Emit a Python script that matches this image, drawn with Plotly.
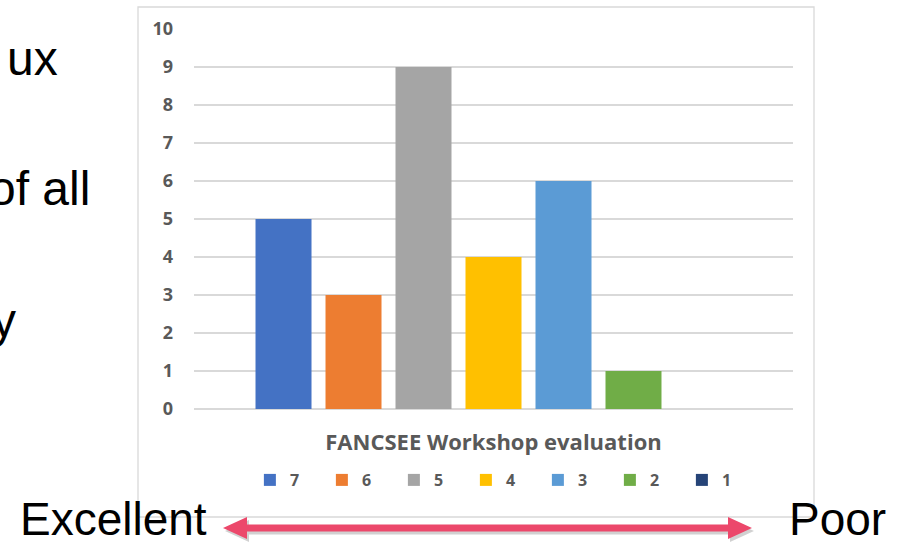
import plotly.graph_objects as go

# Workshop rating counts (7 = excellent ... 1 = poor)
category = ["FANCSEE Workshop evaluation"]
ratings = ["7", "6", "5", "4", "3", "2", "1"]
counts = [5, 3, 9, 4, 6, 1, 0]
colors = ["#4472C4", "#ED7D31", "#A5A5A5", "#FFC000", "#5B9BD5", "#70AD47", "#264478"]

W, H = 898, 545
L, R, T, B = 194, 793, 29, 409  # plot area in pixels


def px(x):
    return (x - L) / (R - L)


def py(y):
    return (B - y) / (B - T)


fig = go.Figure()
for name, val, col in zip(ratings, counts, colors):
    fig.add_trace(go.Bar(x=category, y=[val], name=name, marker=dict(color=col, line=dict(width=0))))

grey = "#595959"
fig.update_layout(
    width=W, height=H,
    margin=dict(l=L, r=W - R, t=T, b=H - B, pad=0),
    paper_bgcolor="white", plot_bgcolor="white",
    barmode="group", bargap=0.182, bargroupgap=0.2,
    showlegend=True,
    legend=dict(orientation="h", x=0.514, xanchor="center", y=py(480), yanchor="middle",
                font=dict(family="Open Sans", size=16, color=grey, weight="bold"),
                entrywidth=27, traceorder="normal", itemwidth=30),
    xaxis=dict(showgrid=False, showline=False, ticks="", ticklabelstandoff=18,
               tickfont=dict(family="Open Sans", size=22, color=grey, weight="bold"), fixedrange=True),
    yaxis=dict(range=[0, 10], dtick=1, showline=False, ticks="", gridcolor="#D9D9D9", gridwidth=1.5,
               zeroline=True, zerolinecolor="#D9D9D9", zerolinewidth=1.5, ticklabelstandoff=20,
               tickfont=dict(family="Open Sans", size=18, color=grey, weight="bold")),
)

# chart frame
fig.add_shape(type="rect", xref="paper", yref="paper", x0=px(138), x1=px(814), y0=py(517), y1=py(7),
              line=dict(color="#D9D9D9", width=1.3), layer="below")

# double-headed arrow under the chart, with a soft shadow
def arrow_path(dx=0, dy=0):
    pts = [(223, 528), (247, 517), (247, 524.5), (728, 524.5), (728, 517), (752, 528),
           (728, 539), (728, 531.5), (247, 531.5), (247, 539)]
    return "M " + " L ".join(f"{px(x + dx):.5f},{py(y + dy):.5f}" for x, y in pts) + " Z"


fig.add_shape(type="path", xref="paper", yref="paper", path=arrow_path(2, 3),
              fillcolor="rgba(0,0,0,0.18)", line=dict(width=0))
fig.add_shape(type="path", xref="paper", yref="paper", path=arrow_path(),
              fillcolor="#EC486B", line=dict(width=0))

big = dict(family="Liberation Sans, Arial", size=48, color="black")
side = dict(family="Liberation Sans, Arial", size=46, color="black")
texts = [("Excellent", 18, 519, side), ("Poor", 787, 519, side),
         ("ux", 5, 58, big), ("of all", -13, 188, big), ("y", -10, 320, big)]
for t, x, y, f in texts:
    fig.add_annotation(text=t, xref="paper", yref="paper", x=px(x), y=py(y), xanchor="left", yanchor="middle",
                       showarrow=False, font=f)

fig.write_html("out.html")
